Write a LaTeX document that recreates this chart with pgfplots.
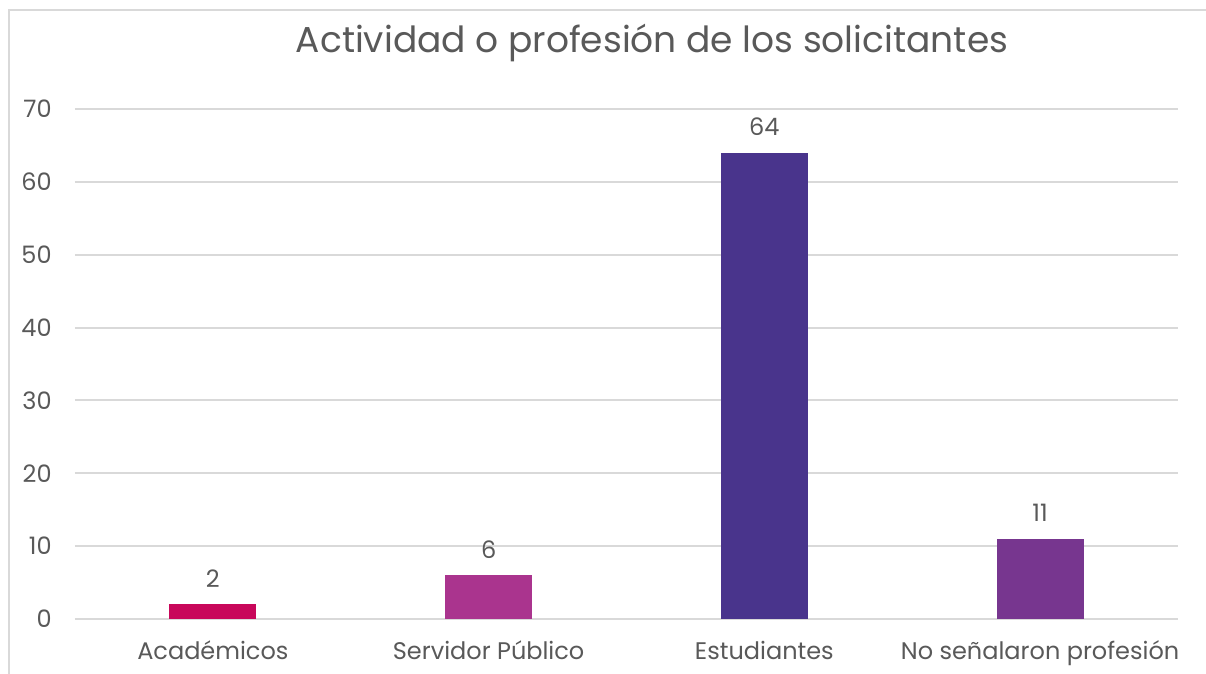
\documentclass[border=0pt]{standalone}
\usepackage{pgfplots}
\pgfplotsset{compat=1.18}
\usepackage{fontspec}
\setmainfont{Poppins}
\definecolor{txt}{HTML}{595959}
\definecolor{gridc}{HTML}{D9D9D9}
\definecolor{cA}{HTML}{C8075A}
\definecolor{cB}{HTML}{AA348E}
\definecolor{cC}{HTML}{49348C}
\definecolor{cD}{HTML}{77368F}
\begin{document}
\begin{tikzpicture}
\useasboundingbox (0,0) rectangle (603pt,337pt);
\fill[white] (0,0) rectangle (603pt,337pt);
\draw[gridc, line width=1pt] (4.5pt,0) -- (4.5pt,332pt) -- (603pt,332pt);
\node[txt, font=\fontsize{18}{22}\selectfont, anchor=base] at (326pt,310.5pt) {Actividad o profesión de los solicitantes};
\begin{axis}[
  at={(37.5pt,27.5pt)}, anchor=south west,
  scale only axis, width=551.5pt, height=255pt,
  xmin=-0.5, xmax=3.5, ymin=0, ymax=70,
  ytick={0,10,...,70},
  xtick={0,1,2,3},
  xticklabels={Académicos, Servidor Público, Estudiantes, No señalaron profesión},
  axis line style={draw=none},
  major tick length=0pt,
  xmajorgrids=false,
  ymajorgrids=true, grid style={draw=gridc, line width=1pt},
  /pgf/number format/assume math mode=true,
  tick label style={txt, font=\fontsize{12}{14}\selectfont},
  yticklabel style={anchor=east, inner sep=0pt, xshift=-11.5pt},
  xticklabel style={anchor=base, inner sep=0pt, yshift=-20.5pt},
  ybar, bar width=43.5pt, bar shift=0pt,
  nodes near coords,
  nodes near coords style={txt, font=\fontsize{12}{14}\selectfont, anchor=base, inner sep=0pt, yshift=8.5pt},
]
\addplot[fill=cA, draw=none] coordinates {(0,2)};
\addplot[fill=cB, draw=none] coordinates {(1,6)};
\addplot[fill=cC, draw=none] coordinates {(2,64)};
\addplot[fill=cD, draw=none] coordinates {(3,11)};
\end{axis}
\end{tikzpicture}
\end{document}
